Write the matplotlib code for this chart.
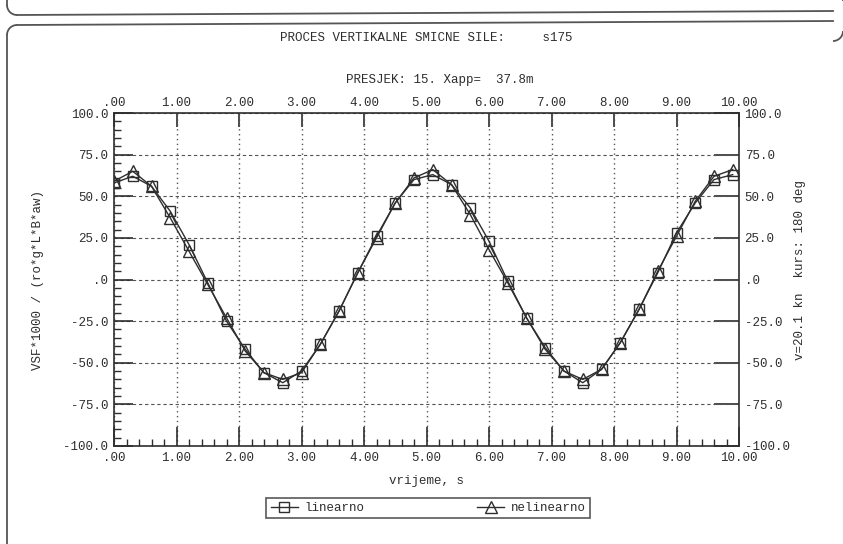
import numpy as np
import matplotlib
matplotlib.use("Agg")
import matplotlib.pyplot as plt
from matplotlib.lines import Line2D
from matplotlib.patches import Arc
from matplotlib.ticker import MultipleLocator, FixedLocator, FixedFormatter

# ---- data -------------------------------------------------------------
time_s = [0.0, 0.3, 0.6, 0.9, 1.2, 1.5, 1.8, 2.1, 2.4, 2.7, 3.0, 3.3,
          3.6, 3.9, 4.2, 4.5, 4.8, 5.1, 5.4, 5.7, 6.0, 6.3, 6.6, 6.9,
          7.2, 7.5, 7.8, 8.1, 8.4, 8.7, 9.0, 9.3, 9.6, 9.9]
linearno = [58, 62, 56, 41, 21, -2, -25, -42, -56, -62, -55, -39,
            -19, 4, 26, 46, 60, 63, 57, 43, 23, -1, -23, -41,
            -55, -62, -54, -38, -18, 4, 28, 46, 60, 63]
nelinearno = [59, 65, 56, 37, 17, -3, -23, -43, -56, -60, -56, -39,
              -19, 4, 25, 46, 61, 66, 57, 39, 18, -2, -23, -42,
              -55, -60, -54, -38, -18, 5, 26, 47, 62, 66]

x_ticks = [0, 1, 2, 3, 4, 5, 6, 7, 8, 9, 10]
x_labels = [".00", "1.00", "2.00", "3.00", "4.00", "5.00", "6.00",
            "7.00", "8.00", "9.00", "10.00"]
y_ticks = [-100, -75, -50, -25, 0, 25, 50, 75, 100]
y_labels = ["-100.0", "-75.0", "-50.0", "-25.0", ".0", "25.0", "50.0",
            "75.0", "100.0"]

title = "PROCES VERTIKALNE SMICNE SILE:     s175"
subtitle = "PRESJEK: 15. Xapp=  37.8m"
x_title = "vrijeme, s"
y_title = "VSF*1000 / (ro*g*L*B*aw)"
y2_title = "v=20.1 kn  kurs: 180 deg"

# ---- style ------------------------------------------------------------
INK = "#2e2e2e"
FONT = "Liberation Mono"
FS = 9
plt.rcParams["font.family"] = [FONT, "DejaVu Sans Mono"]
plt.rcParams["text.color"] = INK

W, H = 843, 544
fig = plt.figure(figsize=(W / 100, H / 100), dpi=100, facecolor="white")

# page frame (pixel coordinates)
deco = fig.add_axes([0, 0, 1, 1], zorder=-5)
deco.set_xlim(0, W)
deco.set_ylim(H, 0)
deco.axis("off")
fk = dict(color="#555555", lw=1.3)
deco.plot([17, 833], [15, 11], **fk)
deco.plot([17, 833], [25, 21], **fk)
deco.plot([7, 7], [0, 5], **fk)
deco.plot([7, 7], [35, H], **fk)
deco.add_patch(Arc((17, 5), 20, 20, theta1=90, theta2=180, **fk))
deco.add_patch(Arc((17, 35), 20, 20, theta1=180, theta2=270, **fk))
deco.add_patch(Arc((833, 1), 20, 20, theta1=270, theta2=360, **fk))
deco.add_patch(Arc((833, 31), 20, 20, theta1=0, theta2=90, **fk))

# ---- main axes --------------------------------------------------------
left, right, top, bottom = 114, 739, 113, 446
ax = fig.add_axes([left / W, (H - bottom) / H, (right - left) / W,
                   (bottom - top) / H])
ax.set_xlim(0, 10)
ax.set_ylim(-100, 100)
for s in ax.spines.values():
    s.set_color(INK)
    s.set_linewidth(1.2)

ax.xaxis.set_major_locator(FixedLocator(x_ticks))
ax.xaxis.set_major_formatter(FixedFormatter(x_labels))
ax.xaxis.set_minor_locator(MultipleLocator(0.2))
ax.yaxis.set_major_locator(FixedLocator(y_ticks))
ax.yaxis.set_major_formatter(FixedFormatter(y_labels))
ax.yaxis.set_minor_locator(MultipleLocator(5))
ax.tick_params(which="major", direction="in", length=14, width=1.2,
               color=INK, labelsize=FS, labelcolor=INK, pad=4)
ax.tick_params(which="minor", direction="in", length=5, width=1.0,
               color=INK)
ax.tick_params(top=False, right=False)

# grid
ax.grid(axis="y", which="major", linestyle=(0, (3, 2.5)), linewidth=0.8,
        color="#555555")
ax.grid(axis="x", which="major", linestyle=(0, (1, 2.5)), linewidth=1.0,
        color="#555555")

# top axis labels
ax_top = ax.secondary_xaxis("top")
ax_top.xaxis.set_major_locator(FixedLocator(x_ticks))
ax_top.xaxis.set_major_formatter(FixedFormatter(x_labels))
ax_top.tick_params(direction="in", length=10, width=1.2, color=INK,
                   labelsize=FS, labelcolor=INK, pad=3)
ax_top.spines["top"].set_visible(False)

# right axis labels
ax_r = ax.secondary_yaxis("right")
ax_r.yaxis.set_major_locator(FixedLocator(y_ticks))
ax_r.yaxis.set_major_formatter(FixedFormatter(y_labels))
ax_r.tick_params(direction="in", length=18, width=1.2, color=INK,
                 labelsize=FS, labelcolor=INK, pad=4)
ax_r.spines["right"].set_visible(False)

# series
ax.plot(time_s, linearno, color=INK, lw=1.0, marker="s", ms=6.5,
        mfc="none", mec=INK, mew=1.0, zorder=3)
ax.plot(time_s, nelinearno, color=INK, lw=1.0, marker="^", ms=8,
        mfc="none", mec=INK, mew=1.0, zorder=4)

ax.set_xlabel(x_title, fontsize=FS, color=INK, labelpad=8)
ax.set_ylabel(y_title, fontsize=FS, color=INK, labelpad=14)
fig.text(800 / W, (H - 270) / H, y2_title, rotation=90, fontsize=FS,
         ha="center", va="center", color=INK)

fig.text(426 / W, (H - 38) / H, title, fontsize=FS, ha="center",
         va="center", color=INK)
fig.text(440 / W, (H - 80) / H, subtitle, fontsize=FS, ha="center",
         va="center", color=INK)

# legend
handles = [
    Line2D([], [], color=INK, lw=1.0, marker="s", ms=6.5, mfc="none",
           mec=INK, label="linearno"),
    Line2D([], [], color=INK, lw=1.0, marker="^", ms=8, mfc="none",
           mec=INK, label="nelinearno"),
]
leg = fig.legend(handles=handles, loc="center",
                 bbox_to_anchor=(428 / W, (H - 508) / H), ncol=2,
                 frameon=True, fancybox=False, edgecolor=INK,
                 fontsize=FS, handlelength=2.2, handletextpad=0.5,
                 columnspacing=9, borderpad=0.35)
leg.get_frame().set_linewidth(1.2)

fig.savefig("out.png", dpi=100, facecolor="white")
